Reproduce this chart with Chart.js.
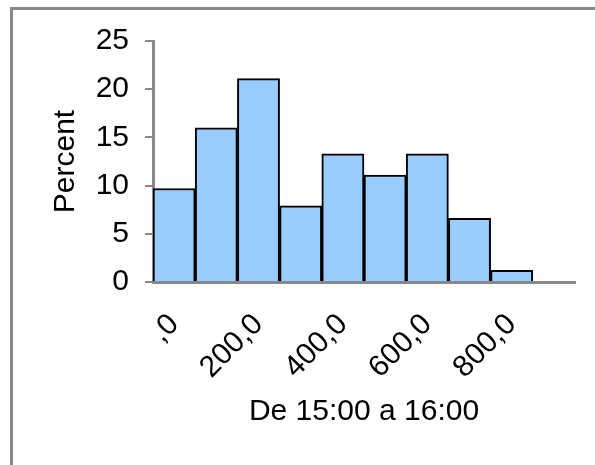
<!DOCTYPE html>
<html>
<head>
<meta charset="utf-8">
<script src="https://cdn.jsdelivr.net/npm/chart.js@4/dist/chart.umd.min.js"></script>
<style>
  html, body { margin: 0; padding: 0; background: #fff; overflow: hidden; }
  #wrap { position: relative; width: 595px; height: 465px; }
  #frame {
    position: absolute; left: 10px; top: 7px;
    width: 700px; height: 600px;
    border: 3px solid #888;
  }
  canvas { position: absolute; left: 0; top: 0; }
</style>
</head>
<body>
<div id="wrap">
  <div id="frame"></div>
  <canvas id="chart" width="595" height="465"></canvas>
</div>
<script>
// bins of the histogram (every other one gets a label)
const binLabels = [',0', '100,0', '200,0', '300,0', '400,0', '500,0', '600,0', '700,0', '800,0', '900,0'];
// percent per bin
const percentValues = [9.7, 16.0, 21.1, 7.9, 13.3, 11.1, 13.3, 6.6, 1.2, null];
const yMin = 0, yMax = 25, yStep = 5;
const xTitle = 'De 15:00 a 16:00';
const yTitle = 'Percent';

const font = "'Liberation Sans', Arial, sans-serif";
const axisGray = '#888888';

new Chart(document.getElementById('chart'), {
  type: 'bar',
  data: {
    labels: binLabels,
    datasets: [{
      data: percentValues,
      backgroundColor: '#99CCFF',
      borderColor: '#000000',
      borderWidth: 2,
      borderSkipped: 'start',
      categoryPercentage: 1,
      barPercentage: 1,
    }],
  },
  options: {
    responsive: false,
    animation: false,
    devicePixelRatio: 1,
    layout: { padding: { left: 48, top: 41, right: 20, bottom: 35 } },
    plugins: { legend: { display: false }, tooltip: { enabled: false } },
    scales: {
      x: {
        grid: { display: false, drawTicks: false },
        border: { display: true, color: axisGray, width: 3 },
        ticks: {
          autoSkip: false,
          minRotation: 45,
          maxRotation: 45,
          padding: 25,
          color: '#000',
          font: { family: font, size: 30 },
          callback(value, index) {
            return index % 2 === 0 ? this.getLabelForValue(value) : '';
          },
        },
        title: {
          display: true,
          text: xTitle,
          color: '#000',
          font: { family: font, size: 30 },
          padding: { top: 0, bottom: 0 },
        },
        afterFit(s) {
          s.height = 148;
          s.paddingLeft = 0;
          s.paddingRight = 0;
        },
      },
      y: {
        min: yMin,
        max: yMax,
        grid: { drawOnChartArea: false, drawTicks: true, tickLength: 8, color: axisGray, lineWidth: 2 },
        border: { display: true, color: axisGray, width: 3 },
        ticks: {
          stepSize: yStep,
          padding: 16,
          color: '#000',
          font: { family: font, size: 30 },
        },
        title: {
          display: true,
          text: yTitle,
          color: '#000',
          font: { family: font, size: 30 },
          padding: { top: 0, bottom: 0 },
        },
        afterFit(s) { s.width = 105; },
      },
    },
  },
});
</script>
</body>
</html>
